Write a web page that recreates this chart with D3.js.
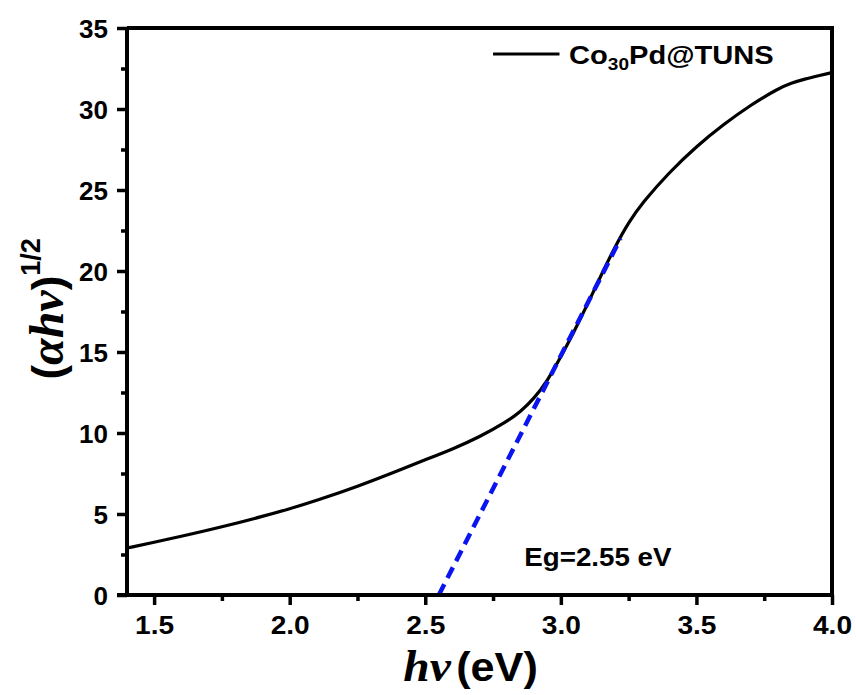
<!DOCTYPE html>
<html>
<head>
<meta charset="utf-8">
<script src="https://cdn.jsdelivr.net/npm/d3@7"></script>
<style>
  html, body { margin: 0; padding: 0; background: #fff; }
  svg { display: block; }
  text { font-family: "Liberation Sans", Arial, sans-serif; font-weight: bold; fill: #000; }
</style>
</head>
<body>
<svg id="chart" width="856" height="695"></svg>
<script>
// ---- data ----
const photonEnergy = [1.4, 1.5, 1.6, 1.75, 1.9, 2.0, 2.1, 2.25, 2.4, 2.5, 2.6, 2.7, 2.8, 2.85, 2.9, 2.95, 3.0, 3.05, 3.1, 3.15, 3.2, 3.25, 3.3, 3.4, 3.5, 3.6, 3.7, 3.8, 3.85, 3.9, 3.95, 4.0];
const taucValue    = [2.9, 3.25, 3.62, 4.2, 4.85, 5.32, 5.84, 6.7, 7.68, 8.35, 9.0, 9.75, 10.7, 11.3, 12.1, 13.2, 14.7, 16.3, 18.0, 19.8, 21.5, 23.0, 24.2, 26.1, 27.7, 29.05, 30.25, 31.25, 31.6, 31.85, 32.05, 32.25];
const fitX = [2.55, 3.22];
const fitY = [0, 22];
const xTicks = [1.5, 2.0, 2.5, 3.0, 3.5, 4.0];
const xMinorTicks = [1.75, 2.25, 2.75, 3.25, 3.75];
const yTicks = [0, 5, 10, 15, 20, 25, 30, 35];
const yMinorTicks = [2.5, 7.5, 12.5, 17.5, 22.5, 27.5, 32.5];
const seriesName = ["Co", "30", "Pd@TUNS"];
const bandGapLabel = "Eg=2.55 eV";

// ---- layout ----
const W = 856, H = 695;
const m = { left: 127, top: 28, right: 24, bottom: 100 };
const svg = d3.select("#chart");
const x = d3.scaleLinear().domain([1.4, 4.0]).range([m.left, W - m.right]);
const y = d3.scaleLinear().domain([0, 35]).range([H - m.bottom, m.top]);
const SX = 1.08; // slight horizontal stretch of lettering

// frame (top & right)
svg.append("path")
  .attr("d", `M${x(1.4)},${y(35)}H${x(4.0)}V${y(0)}`)
  .attr("fill", "none").attr("stroke", "#000").attr("stroke-width", 4);

// data curve
const pts = photonEnergy.map((d, i) => [d, taucValue[i]]);
svg.append("path")
  .datum(pts)
  .attr("fill", "none").attr("stroke", "#000").attr("stroke-width", 3.2)
  .attr("d", d3.line().x(d => x(d[0])).y(d => y(d[1])).curve(d3.curveBasis));

// fit line
svg.append("path")
  .datum(fitX.map((d, i) => [d, fitY[i]]))
  .attr("fill", "none").attr("stroke", "#0a14f0").attr("stroke-width", 4.5)
  .attr("stroke-dasharray", "12,7")
  .attr("d", d3.line().x(d => x(d[0])).y(d => y(d[1])));

// x axis
const xAxis = svg.append("g").attr("transform", `translate(0,${y(0)})`)
  .call(d3.axisBottom(x).tickValues(xTicks).tickFormat(d3.format(".1f")).tickSize(10).tickPadding(4));
xAxis.select(".domain").attr("stroke-width", 4).attr("d", `M${x(1.4) - 10},0H${x(4.0)}`);
xAxis.selectAll(".tick line").attr("stroke-width", 3.5);
xAxis.selectAll(".tick text").attr("font-size", 26).attr("dy", "0.95em")
  .attr("transform", `scale(${SX},1)`).attr("font-family", "Liberation Sans, Arial, sans-serif");
svg.append("g").attr("transform", `translate(0,${y(0)})`)
  .call(d3.axisBottom(x).tickValues(xMinorTicks).tickFormat("").tickSize(6))
  .call(g => g.select(".domain").remove())
  .selectAll(".tick line").attr("stroke-width", 3.5);

// y axis
const yAxis = svg.append("g").attr("transform", `translate(${x(1.4)},0)`)
  .call(d3.axisLeft(y).tickValues(yTicks).tickFormat(d3.format("d")).tickSize(10).tickPadding(9));
yAxis.select(".domain").attr("stroke-width", 4).attr("d", `M0,${y(0)}V${y(35)}`);
yAxis.selectAll(".tick line").attr("stroke-width", 3.5);
yAxis.selectAll(".tick text").attr("font-size", 26).attr("dy", "0.36em")
  .attr("font-family", "Liberation Sans, Arial, sans-serif");
svg.append("g").attr("transform", `translate(${x(1.4)},0)`)
  .call(d3.axisLeft(y).tickValues(yMinorTicks).tickFormat("").tickSize(6))
  .call(g => g.select(".domain").remove())
  .selectAll(".tick line").attr("stroke-width", 3.5);

// x axis title
const xt = svg.append("text")
  .attr("transform", `translate(${x(2.5) - 22},${H - 14}) scale(${SX},1)`)
  .attr("font-size", 40);
xt.append("tspan").text("hν").attr("font-family", "Liberation Serif, Times New Roman, serif").attr("font-style", "italic").attr("font-size", 44);
xt.append("tspan").text("(eV)").attr("dx", 5);

// y axis title
const yt = svg.append("text")
  .attr("transform", `translate(63,${y(13.3)}) rotate(-90)`)
  .attr("font-size", 44);
yt.append("tspan").text("(");
yt.append("tspan").text("αhν").attr("font-family", "Liberation Serif, Times New Roman, serif").attr("font-style", "italic").attr("font-size", 48);
yt.append("tspan").text(")");
yt.append("tspan").text("1/2").attr("font-size", 27).attr("dy", -23);

// legend
svg.append("line")
  .attr("x1", x(2.75)).attr("x2", x(2.995))
  .attr("y1", y(33.4)).attr("y2", y(33.4))
  .attr("stroke", "#000").attr("stroke-width", 3);
const lt = svg.append("text")
  .attr("transform", `translate(${x(3.03)},${y(32.8)}) scale(1.12,1)`)
  .attr("font-size", 26);
lt.append("tspan").text(seriesName[0]);
lt.append("tspan").text(seriesName[1]).attr("font-size", 17).attr("dy", 6);
lt.append("tspan").text(seriesName[2]).attr("dy", -6);

// band gap annotation
svg.append("text")
  .attr("transform", `translate(${x(2.865)},${y(1.8)}) scale(${SX + 0.03},1)`)
  .attr("font-size", 25)
  .text(bandGapLabel);
</script>
</body>
</html>
